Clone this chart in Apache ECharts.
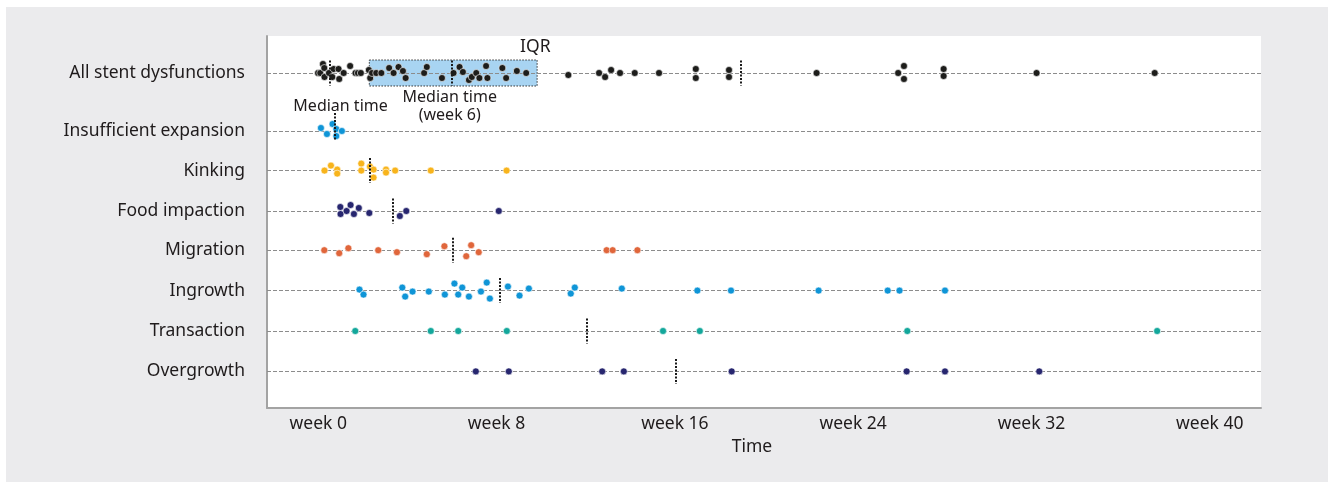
<!DOCTYPE html>
<html><head><meta charset="utf-8">
<script src="https://cdn.jsdelivr.net/npm/echarts@6/dist/echarts.min.js"></script>
<style>
html,body{margin:0;padding:0;background:#fff;}
#bg{position:absolute;left:6px;top:7px;width:1322px;height:475px;background:#ebebed;}
#chart{position:absolute;left:0;top:0;width:1335px;height:483px;}
</style></head><body>
<div id="bg"></div><div id="chart"></div>
<script>
// ---- data ----
const categories = ['All stent dysfunctions','Insufficient expansion','Kinking','Food impaction','Migration','Ingrowth','Transaction','Overgrowth'];
const xTicks = [0, 8, 16, 24, 32, 40];
// points: [week, vertical swarm offset]
const allStent = [[-0.01,0],[0.09,0],[0.21,-9],[0.27,-5],[0.28,4],[0.48,0],[0.63,4],[0.69,-4],[0.91,-4],[0.94,6],[1.14,0],[1.43,-7],[1.67,0],[1.78,0],[1.91,0],[2.27,-3],[2.33,5],[2.41,0],[2.6,0],[2.83,0],[3.18,-5],[3.38,0],[3.6,-6],[3.8,-2],[3.92,5],[4.75,0],[4.87,-6],[5.55,5],[6.07,0],[6.34,-6],[6.49,-1],[6.76,7],[6.89,4],[7.09,0],[7.23,5],[7.53,-7],[7.59,5],[8.26,-5],[8.43,5],[8.91,-2],[9.33,0],[11.22,2],[12.6,0],[12.87,4],[13.14,-3],[13.54,0],[14.2,0],[15.29,0],[16.94,-4],[16.94,5],[18.43,-3],[18.43,4],[22.36,0],[26.02,0],[26.28,-7],[26.28,6],[28.06,-4],[28.06,3],[32.23,0],[37.53,0]];
const insufficient = [[0.12,-3],[0.39,3],[0.64,-7],[0.81,-2],[0.81,5],[1.06,0]];
const kinking = [[0.28,0],[0.57,-5],[0.85,-1],[0.85,3],[1.93,-7],[1.93,0],[2.32,-4],[2.48,-1],[2.48,7],[3.04,-1],[3.04,2],[3.45,0],[5.05,0],[8.45,0]];
const foodImpaction = [[0.99,-4],[1.0,3],[1.27,0],[1.45,-6],[1.6,3],[1.82,-3],[2.29,2],[3.66,5],[3.95,0],[8.1,0]];
const migration = [[0.27,0],[0.94,3],[1.35,-2],[2.69,0],[3.53,2],[4.87,4],[5.66,-4],[6.64,6],[6.86,-5],[7.2,2],[12.94,0],[13.21,0],[14.32,0]];
const ingrowth = [[1.85,-1],[2.03,4],[3.77,-3],[3.9,6],[4.23,1],[4.96,1],[5.68,4],[6.11,-7],[6.28,4],[6.46,-3],[6.76,6],[7.3,1],[7.56,-8],[7.7,8],[8.51,-4],[9.03,5],[9.45,-2],[11.33,3],[11.51,-3],[13.62,-2],[17.01,0],[18.52,0],[22.45,0],[25.55,0],[26.08,0],[28.12,0]];
const transaction = [[1.66,0],[5.05,0],[6.28,0],[8.46,0],[15.47,0],[17.12,0],[26.43,0],[37.64,0]];
const overgrowth = [[7.07,0],[8.55,0],[12.74,0],[13.71,0],[18.55,0],[26.4,0],[28.12,0],[32.35,0]];
const seriesPoints = [allStent, insufficient, kinking, foodImpaction, migration, ingrowth, transaction, overgrowth];
// median time (weeks) per category; top row has extra reference lines
const medians = [6.0, 0.73, 2.32, 3.36, 6.02, 8.16, 12.05, 16.04];
const allExtraLines = [0.5, 18.94];
const iqr = [2.29, 9.82];

// ---- layout ----
const colors = ['#1d1d1b','#0f95d7','#f8b41c','#27266f','#e0663b','#0f95d7','#13a79b','#27266f'];
const rowPos = [0, 1.45, 2.44, 3.45, 4.43, 5.44, 6.45, 7.46];
const PX = 40; // px per row unit
const FONT = 'Noto Sans';
const TXT = '#1f1b1c';

const series = [];
series.push({
  type: 'scatter', data: [], silent: true,
  markArea: {
    silent: true, z: 1,
    itemStyle: {color: '#a8d4f2', borderColor: '#333', borderWidth: 1, borderType: [1.5, 1.5]},
    data: [[{coord: [iqr[0], rowPos[0] - 13/PX]}, {coord: [iqr[1], rowPos[0] + 13/PX]}]]
  },
  markLine: {
    silent: true, z: 2, symbol: 'none', label: {show: false},
    lineStyle: {color: '#8c8c8c', width: 1, type: [4, 2]},
    data: rowPos.map(p => ({yAxis: p}))
  }
});
seriesPoints.forEach((pts, i) => {
  series.push({
    type: 'scatter', z: 3, name: categories[i], symbolSize: 7,
    itemStyle: {color: colors[i], borderColor: '#fff', borderWidth: 0.6, opacity: 1},
    data: pts.map(([w, j]) => [w, rowPos[i] + j / PX])
  });
});
const medSegs = [];
medians.forEach((m, i) => {
  const a = i === 1 ? -18 : -12.5, b = i === 1 ? 9 : 12.5;
  medSegs.push([{coord: [m, rowPos[i] + a/PX]}, {coord: [m, rowPos[i] + b/PX]}]);
});
allExtraLines.forEach(m => medSegs.push([{coord: [m, rowPos[0] - 12.5/PX]}, {coord: [m, rowPos[0] + 12.5/PX]}]));
series.push({
  type: 'scatter', data: [], silent: true,
  markLine: {
    silent: true, z: 5, symbol: 'none', label: {show: false},
    lineStyle: {color: '#1a1a1a', width: 2, type: [2, 1.5]},
    data: medSegs
  }
});
series.push({
  type: 'scatter', silent: true, z: 6, symbolSize: 1,
  itemStyle: {color: 'rgba(255,255,255,0)', opacity: 1},
  label: {show: true, position: 'inside', color: TXT, opacity: 1, fontFamily: FONT, fontSize: 16, lineHeight: 18, textBorderWidth: 0},
  data: [
    {value: [iqr[1] - 0.08, rowPos[0] - 26/PX], label: {formatter: 'IQR', fontSize: 17.5}},
    {value: [medians[0] - 0.1, rowPos[0] + 33/PX], label: {formatter: 'Median time\n(week 6)'}},
    {value: [1.0, rowPos[0] + 33/PX], label: {formatter: 'Median time'}}
  ]
});

const chart = echarts.init(document.getElementById('chart'), null, {renderer: 'canvas'});
chart.setOption({
  animation: false,
  backgroundColor: 'transparent',
  grid: {left: 267, right: 74, top: 36, bottom: 75, show: true, backgroundColor: '#fff', borderWidth: 0},
  xAxis: {
    type: 'value', min: -2.3, max: 42.3,
    axisLine: {show: true, onZero: false, lineStyle: {color: '#a3a3a3', width: 2}},
    axisTick: {show: false}, splitLine: {show: false},
    axisLabel: {customValues: xTicks, formatter: v => 'week ' + v, fontSize: 17.5, color: TXT, fontFamily: FONT, margin: 7},
    name: 'Time', nameLocation: 'middle', nameGap: 27,
    nameTextStyle: {fontSize: 17.5, color: TXT, fontFamily: FONT, padding: [0, 24, 0, 0]}
  },
  yAxis: {
    type: 'value', inverse: true, min: -0.925, max: 8.375,
    axisLine: {show: true, onZero: false, lineStyle: {color: '#a3a3a3', width: 2}},
    axisTick: {show: false}, splitLine: {show: false},
    axisLabel: {
      customValues: rowPos,
      formatter: v => { const k = rowPos.findIndex(p => Math.abs(p - v) < 1e-6); return k >= 0 ? categories[k] : ''; },
      fontSize: 17.5, color: TXT, fontFamily: FONT, margin: 22
    }
  },
  series: series
});
</script></body></html>
